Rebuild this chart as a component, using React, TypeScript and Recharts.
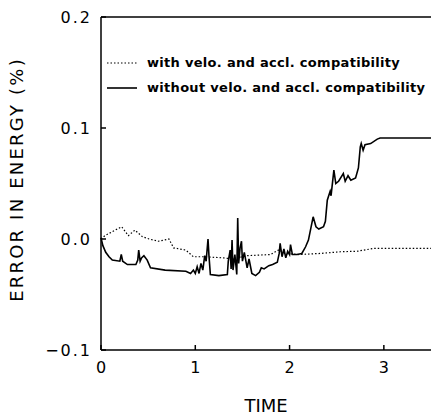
import {
  LineChart,
  Line,
  XAxis,
  YAxis,
  Legend,
} from "recharts";

// dotted curve: with velo. and accl. compatibility
const withTime = [
  0, 0.04, 0.085, 0.15, 0.22, 0.29, 0.36, 0.44, 0.51, 0.61, 0.72, 0.77, 0.9,
  0.98, 1.1, 1.3, 1.4, 1.55, 1.8, 1.88, 1.95, 2.1, 2.33, 2.54, 2.72, 2.89, 3.07,
  3.5,
];
const withError = [
  0, 0.003, 0.005, 0.008, 0.011, 0.003, 0.008, 0.002, 0, -0.002, 0, -0.008,
  -0.01, -0.016, -0.016, -0.017, -0.018, -0.015, -0.014, -0.01, -0.013, -0.014,
  -0.013, -0.0115, -0.011, -0.0085, -0.0085, -0.0085,
];

// solid curve: without velo. and accl. compatibility
const withoutTime = [
  0, 0.02, 0.05, 0.085, 0.12, 0.2, 0.215, 0.23, 0.28, 0.37, 0.39, 0.4, 0.415,
  0.43, 0.455, 0.49, 0.525, 0.68, 0.9, 0.95, 0.98, 1.0, 1.02, 1.04, 1.06, 1.08,
  1.1, 1.115, 1.135, 1.145, 1.16, 1.25, 1.34, 1.35, 1.37, 1.38, 1.39, 1.4, 1.42,
  1.44, 1.45, 1.46, 1.475, 1.49, 1.5, 1.52, 1.55, 1.57, 1.6, 1.64, 1.68, 1.7,
  1.73, 1.78, 1.82, 1.87, 1.89, 1.9, 1.92, 1.94, 1.96, 1.98, 2.0, 2.01, 2.03,
  2.08, 2.13, 2.17, 2.2, 2.25, 2.28, 2.31, 2.36, 2.38, 2.4, 2.43, 2.44, 2.47,
  2.49, 2.52, 2.57, 2.59, 2.62, 2.65, 2.7, 2.73, 2.75, 2.76, 2.78, 2.8, 2.86,
  2.93, 2.96, 3.5,
];
const withoutError = [
  0.001, -0.006, -0.012, -0.016, -0.019, -0.02, -0.014, -0.02, -0.023, -0.023,
  -0.019, -0.01, -0.02, -0.017, -0.015, -0.019, -0.026, -0.028, -0.029, -0.031,
  -0.028, -0.031, -0.025, -0.031, -0.022, -0.028, -0.015, -0.02, 0.0, -0.015,
  -0.032, -0.033, -0.032, -0.02, -0.01, -0.027, -0.001, -0.028, -0.014, -0.032,
  0.019, -0.022, -0.008, -0.002, -0.02, -0.012, -0.026, -0.018, -0.031, -0.033,
  -0.03, -0.026, -0.027, -0.024, -0.023, -0.021, -0.013, -0.004, -0.016,
  -0.009, -0.017, -0.011, -0.014, -0.005, -0.014, -0.014, -0.013, -0.007,
  -0.001, 0.02, 0.011, 0.009, 0.011, 0.016, 0.035, 0.043, 0.039, 0.062, 0.05,
  0.052, 0.059, 0.052, 0.057, 0.053, 0.055, 0.064, 0.083, 0.086, 0.08, 0.085,
  0.086, 0.09, 0.091, 0.091,
];

const xTicks = [0, 1, 2, 3];
const yTicks = [-0.1, 0, 0.1, 0.2];

const withData = withTime.map((t, i) => ({ t, v: withError[i] }));
const withoutData = withoutTime.map((t, i) => ({ t, v: withoutError[i] }));

const tickFont = {
  fill: "#000",
  fontSize: 16,
  fontFamily: "DejaVu Sans",
};

function fmtY(v: number) {
  const s = Math.abs(v).toFixed(1);
  return v < 0 ? "\u2212" + s : s;
}

function LegendBox(props: any) {
  const items = props.payload || [];
  return (
    <div>
      {items.map((it: any) => (
        <div
          key={it.value}
          style={{ display: "flex", alignItems: "center", height: 25 }}
        >
          <svg width={32} height={10}>
            <line
              x1={1}
              x2={31}
              y1={5}
              y2={5}
              stroke="#000"
              strokeWidth={it.payload.strokeWidth}
              strokeDasharray={it.payload.strokeDasharray}
            />
          </svg>
          <span
            style={{
              marginLeft: 9,
              fontFamily: "DejaVu Sans",
              fontWeight: "bold",
              fontSize: 13,
              letterSpacing: 0.3,
              color: "#000",
              whiteSpace: "nowrap",
            }}
          >
            {it.value}
          </span>
        </div>
      ))}
    </div>
  );
}

export default function App() {
  return (
    <div style={{ position: "absolute", left: 0, top: 0 }}>
      <LineChart
        width={432}
        height={415}
        margin={{ top: 16, right: 1, left: 0, bottom: 15 }}
      >
        <XAxis
          dataKey="t"
          type="number"
          domain={[0, 3.5]}
          ticks={xTicks}
          height={50}
          stroke="#000"
          strokeWidth={1.5}
          tickSize={-5}
          tickMargin={17}
          tick={tickFont}
          label={{
            content: (p: any) => {
              const vb = p.viewBox;
              return (
                <text
                  x={vb.x + vb.width / 2}
                  y={vb.y + vb.height + 12}
                  textAnchor="middle"
                  fontFamily="DejaVu Sans"
                  fontSize={18}
                  fill="#000"
                >
                  TIME
                </text>
              );
            },
          }}
        />
        <XAxis
          xAxisId="top"
          orientation="top"
          type="number"
          domain={[0, 3.5]}
          ticks={[1, 2, 3]}
          height={1}
          stroke="#000"
          strokeWidth={1.5}
          tickSize={-5}
          tick={false}
        />
        <YAxis
          type="number"
          domain={[-0.1, 0.2]}
          ticks={yTicks}
          width={101}
          stroke="#000"
          strokeWidth={1.5}
          tickSize={-5}
          tickMargin={14}
          tickFormatter={fmtY}
          tick={{ ...tickFont, letterSpacing: 2 }}
          label={{
            content: (p: any) => {
              const vb = p.viewBox;
              const cy = vb.y + vb.height / 2 - 4;
              return (
                <text
                  x={23}
                  y={cy}
                  transform={`rotate(-90 23 ${cy})`}
                  textAnchor="middle"
                  fontFamily="DejaVu Sans"
                  fontSize={18}
                  letterSpacing={2.2}
                  fill="#000"
                >
                  ERROR IN ENERGY (%)
                </text>
              );
            },
          }}
        />
        <YAxis
          yAxisId="right"
          orientation="right"
          type="number"
          domain={[-0.1, 0.2]}
          ticks={[0, 0.1]}
          width={0}
          stroke="#000"
          strokeWidth={1.5}
          tickSize={-5}
          tick={false}
        />
        <Legend
          layout="vertical"
          verticalAlign="middle"
          align="center"
          content={LegendBox}
          wrapperStyle={{ left: 106, top: 50, width: "auto" }}
        />
        <Line
          data={withData}
          dataKey="v"
          name="with velo. and accl. compatibility"
          type="linear"
          stroke="#000"
          strokeWidth={1.2}
          strokeDasharray="1.5 2"
          dot={false}
          isAnimationActive={false}
        />
        <Line
          data={withoutData}
          dataKey="v"
          name="without velo. and accl. compatibility"
          type="linear"
          stroke="#000"
          strokeWidth={1.6}
          dot={false}
          isAnimationActive={false}
        />
      </LineChart>
    </div>
  );
}
